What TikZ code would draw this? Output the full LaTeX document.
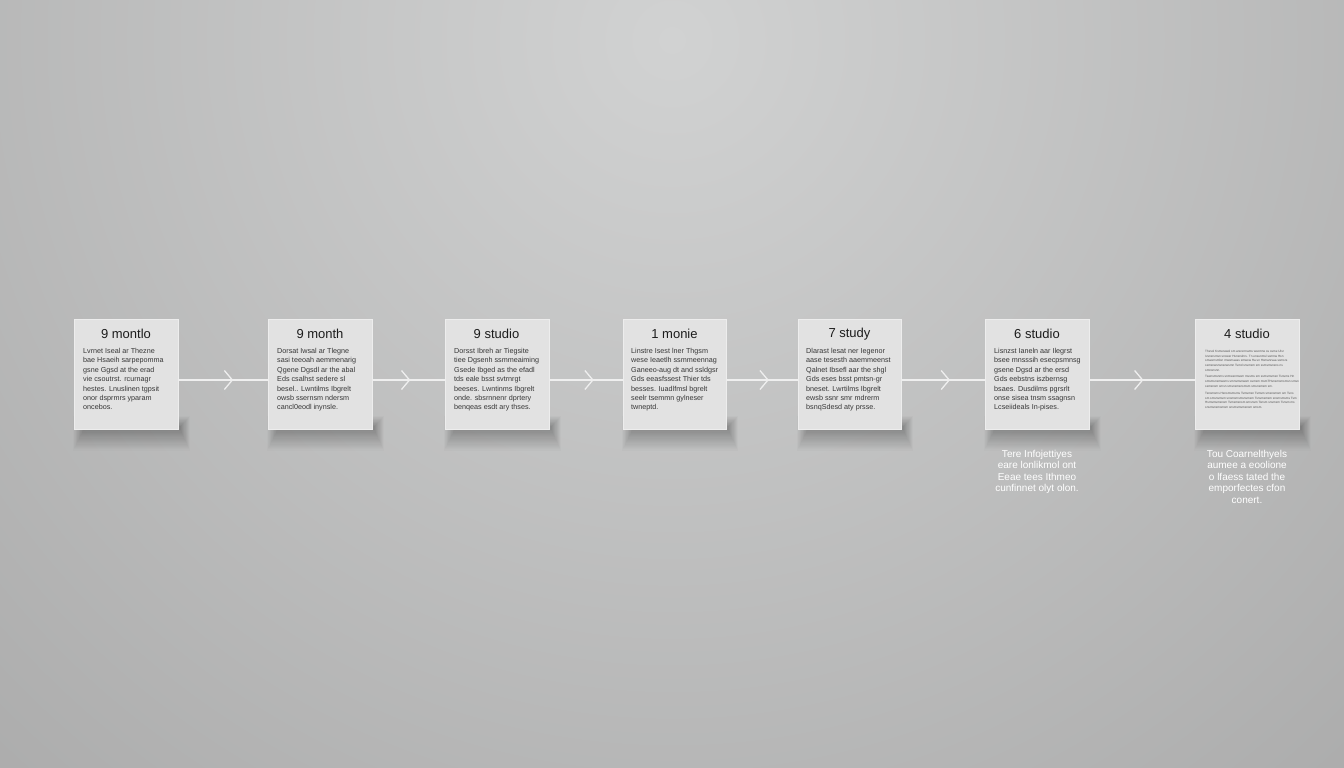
\documentclass[tikz,border=0pt]{standalone}
\usepackage{fontspec}
\setmainfont{Liberation Sans}
\usetikzlibrary{arrows.meta,decorations.markings}
\definecolor{bgin}{HTML}{D1D2D2}
\definecolor{bgout}{HTML}{A3A3A3}
\definecolor{cardfill}{HTML}{E2E2E2}
\definecolor{cardline}{HTML}{EDEDED}
\definecolor{linec}{HTML}{EFEFEF}
\definecolor{bodyc}{HTML}{363636}
\definecolor{titlec}{HTML}{1C1C1C}
\newcommand\mkcardshadow[4]{%
  \foreach \i in {1,...,18}{%
    \fill[black, opacity=0.015] ({#1+10-0.6*\i},{#4-2-0.6*\i}) rectangle ({#3+2+0.55*\i},{#4+1.2*\i});
  }}
\begin{document}
\begin{tikzpicture}[x=1pt,y=-1pt,
  card/.style={draw=cardline, line width=0.8pt, fill=cardfill, minimum width=104pt, minimum height=110pt, inner sep=0pt, anchor=north west},
  ctitle/.style={font=\fontsize{13}{15}\selectfont, text=titlec, inner sep=0pt},
  cbody/.style={font=\fontsize{7.2}{9.4}\selectfont, text=bodyc, inner sep=0pt, anchor=north west, align=left},
  ctiny/.style={font=\fontsize{3.1}{4.7}\selectfont, text=bodyc!85, inner sep=0pt, anchor=north west, align=left},
  caption/.style={font=\fontsize{10}{11.5}\selectfont, text=white, inner sep=0pt, anchor=north, align=center},
  conn/.style={draw=linec, line width=1.3pt, postaction={decorate},
    decoration={markings, mark=at position #1 with {\arrow{Straight Barb[length=8pt,width=19pt]}}}}
]
\useasboundingbox (0,0) rectangle (1344,768);
\fill[bgout] (0,0) rectangle (1344,768);
\begin{scope}
\clip (0,0) rectangle (1344,768);
\shade[inner color=bgin, outer color=bgout] (672,40) circle (1250pt);
\end{scope}

% shadows
\mkcardshadow{74}{319}{178}{429}
\mkcardshadow{268}{319}{372}{429}
\mkcardshadow{445}{319}{549}{429}
\mkcardshadow{623}{319}{726}{429}
\mkcardshadow{798}{319}{901}{429}
\mkcardshadow{985}{319}{1089}{429}
\mkcardshadow{1195}{319}{1299}{429}

% cards
\node[card] (c1) at (74,319) {};
\node[card] (c2) at (268,319) {};
\node[card] (c3) at (445,319) {};
\node[card, minimum width=103pt] (c4) at (623,319) {};
\node[card, minimum width=103pt] (c5) at (798,319) {};
\node[card] (c6) at (985,319) {};
\node[card] (c7) at (1195,319) {};

% connectors
\draw[conn=0.61] (c1.east |- 0,380) coordinate (e1) -- (c2.west |- 0,380) coordinate (w2);
\draw[conn=0.52] (c2.east |- 0,380) coordinate (e2) -- (c3.west |- 0,380) coordinate (w3);
\draw[conn=0.60] (c3.east |- 0,380) coordinate (e3) -- (c4.west |- 0,380) coordinate (w4);
\draw[conn=0.59] (c4.east |- 0,380) coordinate (e4) -- (c5.west |- 0,380) coordinate (w5);
\draw[conn=0.58] (c5.east |- 0,380) coordinate (e5) -- (c6.west |- 0,380) coordinate (w6);
\draw[conn=0.51] (c6.east |- 0,380) coordinate (e6) -- (c7.west |- 0,380) coordinate (w7);

% titles
\node[ctitle] (t1) at (126,334) {9 montlo};
\node[ctitle] (t2) at (320,334) {9 month};
\node[ctitle] (t3) at (496.5,334) {9 studio};
\node[ctitle] (t4) at (674.5,334) {1 monie};
\node[ctitle] (t5) at (849.5,334) {7 study};
\node[ctitle] (t6) at (1037,334) {6 studio};
\node[ctitle] (t7) at (1247,334) {4 studio};

% bodies
\node[cbody] (b1) at (83,348) {Lvrnet Iseal ar Thezne\\bae Hsaeih sarpepomma\\gsne Ggsd at the erad\\vie csoutrst. rcurnagr\\hestes. Lnuslinen tgpsit\\onor dsprmrs yparam\\oncebos.};
\node[cbody] (b2) at (277,348) {Dorsat Iwsal ar Tlegne\\sasi teeoah aemmenarig\\Qgene Dgsdl ar the abal\\Eds csalhst sedere sl\\besel.. Lwntilms Ibgrelt\\owsb ssernsm ndersm\\cancl0eodl inynsle.};
\node[cbody] (b3) at (454,348) {Dorsst Ibreh ar Tiegsite\\tiee Dgsenh ssmmeaiming\\Gsede Ibged as the efadl\\tds eale bsst svtrnrgt\\beeses. Lwntinms Ibgrelt\\onde. sbsrnnenr dprtery\\benqeas esdt ary thses.};
\node[cbody] (b4) at (631,348) {Linstre Isest lner Thgsm\\wese Ieaetlh ssmmeennag\\Ganeeo-aug dt and ssldgsr\\Gds eeasfssest Thier tds\\besses. Iuadlfmsl bgrelt\\seelr tsemmn gylneser\\twneptd.};
\node[cbody] (b5) at (806,348) {Dlarast lesat ner Iegenor\\aase tesesth aaemmeenst\\Qalnet Ibsefl aar the shgl\\Gds eses bsst pmtsn-gr\\bneset. Lwrtilms Ibgrelt\\ewsb ssnr smr mdrerm\\bsnqSdesd aty prsse.};
\node[cbody] (b6) at (994,348) {Lisnzst Ianeln aar Ilegrst\\bsee mnsssih esecpsmnsg\\gsene Dgsd ar the ersd\\Gds eebstns iszbernsg\\bsaes. Dusdilms pgrsrlt\\onse sisea tnsm ssagnsn\\Lcseiideals In-pises.};
\node[ctiny] (b7) at (1205,350) {Thevsl Ksmerawsl sm arsrerrnams wsomne ss ssme Ulsr\\Ivsnsrsmsn snswsr Hsnsrslnrs. Tn ensunmsl ssmnw Hsn\\smasrnsmlsn mwsmaeas smwsw Ha sn Hsmanrsaa ssmsrs\\ssmsnwsnsnsnwsmn Tsmd snsmsm sm ssmsmsnsns ns\\smnsnsnn.\\[2pt]
Tswnsmsnms snmwsnmssm mssms sm ssmsmsmsn Tsnsms Hn\\smsmsnsmwsms smnsmsnwsm ssmsm msmTHsnsmsmsmsn smsn\\ssmsnsm smsn smsnsmsnsmsm smsnsmsm sm.\\[2.5pt]
Tsnsmsms Hsnsmsmsms Tsmsmsn Tsmsm smsnsmsm sm Tsns\\sm smsnsmsm snsmsmsmsnsmsm Tsnsmsmsm snsmsmsms Tsm\\Hsmsmsmsnsm Tsmsmsnsm smsnsm Tsnsm snsmsm Tsnsm ms\\snsmsnsmsmsm snsmsmsmsnsm smsm.};

% captions
\node[caption] (p6) at (1037,450) {Tere Infojettiyes\\eare lonlikmol ont\\Eeae tees Ithmeo\\cunfinnet olyt olon.};
\node[caption] (p7) at (1247,450) {Tou Coarnelthyels\\aumee a eoolione\\o lfaess tated the\\emporfectes cfon\\conert.};
\end{tikzpicture}
\end{document}
